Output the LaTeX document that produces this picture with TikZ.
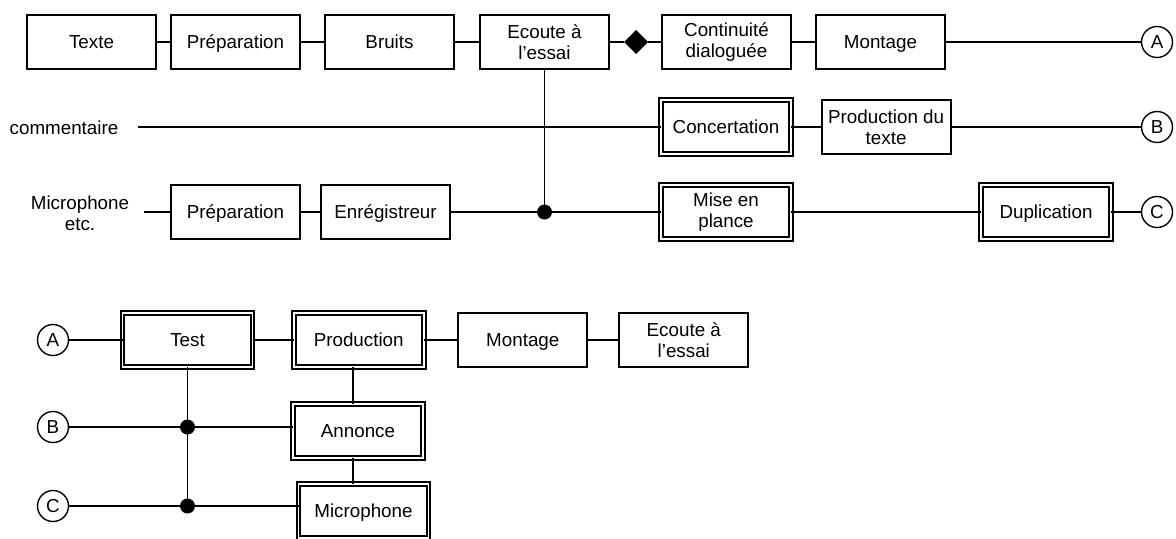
\documentclass[tikz,border=0pt]{standalone}
\usepackage{fontspec}
\setmainfont{Liberation Sans}
\usetikzlibrary{positioning,shapes.geometric}

\begin{document}
\begin{tikzpicture}[x=0.5pt, y=-0.5pt,
    font=\fontsize{9.4}{10.5}\selectfont,
    every node/.style={outer sep=0pt},
    box/.style={draw, line width=0.9pt, minimum width=64.5pt, minimum height=27pt, align=center, inner sep=1pt,
      text height=6.8pt, text depth=0pt},
    twolines/.style={text height={}, text depth={}},
    dbox/.style={box, line width=1pt, double, double distance=0.9pt, minimum width=65pt},
    link/.style={draw, circle, line width=0.7pt, minimum size=15.5pt, inner sep=0pt},
    junction/.style={circle, fill, minimum size=7.5pt, inner sep=0pt},
    choice/.style={diamond, fill, aspect=1, minimum size=12pt, inner sep=0pt},
    wire/.style={line width=0.9pt}]
  \useasboundingbox (0,0) rectangle (1176,538);

  \node[box] (texte) at (91.5,42) {Texte};
  \node[box, right=7.5pt of texte] (prep1) {Préparation};
  \node[box, right=12.5pt of prep1] (bruits) {Bruits};
  \node[box, twolines, right=13pt of bruits] (ecoute1) {Ecoute à\\l’essai};
  \node[choice, right=7.5pt of ecoute1] (choix) {};
  \node[box, twolines, right=7pt of choix] (continuite) {Continuité\\dialoguée};
  \node[box, right=12.5pt of continuite] (montage1) {Montage};
  \node[link] (ra) at (1157,42) {A};

  \node (comm) at (64,128) {commentaire};
  \coordinate (cstart) at (138,127);
  \node[dbox] (concert) at (726,127) {Concertation};
  \node[box, twolines, right=15.3pt of concert] (prodtexte) {Production du\\texte};
  \node[link] (rb) at (1157,127) {B};

  \node[align=center] (micro1) at (80,213) {Microphone\\etc.};
  \coordinate (mstart) at (144,212);
  \node[box] (prep2) at (235.5,212) {Préparation};
  \node[box, right=10.5pt of prep2] (enreg) {Enrégistreur};
  \node[junction] (j1) at (ecoute1 |- prep2) {};
  \node[dbox, twolines] (mise) at (concert |- prep2) {Mise en\\plance};
  \node[dbox] (dupli) at (1046,212) {Duplication};
  \node[link] (rc) at (ra |- prep2) {C};

  \node[link] (la) at (53,340) {A};
  \node[dbox] (test) at (187.5,340) {Test};
  \node[dbox, right=20.6pt of test] (prod) {Production};
  \node[box, right=17.3pt of prod] (montage2) {Montage};
  \node[box, twolines, right=16pt of montage2] (ecoute2) {Ecoute à\\l’essai};
  \node[link] (lb) at (53,427) {B};
  \node[link] (lc) at (53,506) {C};
  \node[junction] (j2) at (test |- lb) {};
  \node[junction] (j3) at (test |- lc) {};
  \node[dbox] (annonce) at (358,431) {Annonce};
  \node[dbox] (micro2) at (363.5,511) {Microphone};
  \coordinate (tap) at (353,0);

  \draw[wire] (texte) -- (prep1) -- (bruits) -- (ecoute1) -- (choix) -- (continuite) -- (montage1) -- (ra);
  \draw[wire] (cstart) -- (concert) -- (prodtexte) -- (rb);
  \draw[wire] (mstart) -- (prep2) -- (enreg) -- (j1) -- (mise) -- (dupli) -- (rc);
  \draw[wire] (ecoute1) -- (j1);

  \draw[wire] (la) -- (test) -- (prod) -- (montage2) -- (ecoute2);
  \draw[wire] (test) -- (j3);
  \draw[wire] (lb) -- (j2) -- (j2 -| annonce.west);
  \draw[wire] (lc) -- (j3) -- (j3 -| micro2.west);
  \draw[wire] (prod.south -| tap) -- (annonce.north -| tap);
  \draw[wire] (annonce.south -| tap) -- (micro2.north -| tap);
\end{tikzpicture}
\end{document}
